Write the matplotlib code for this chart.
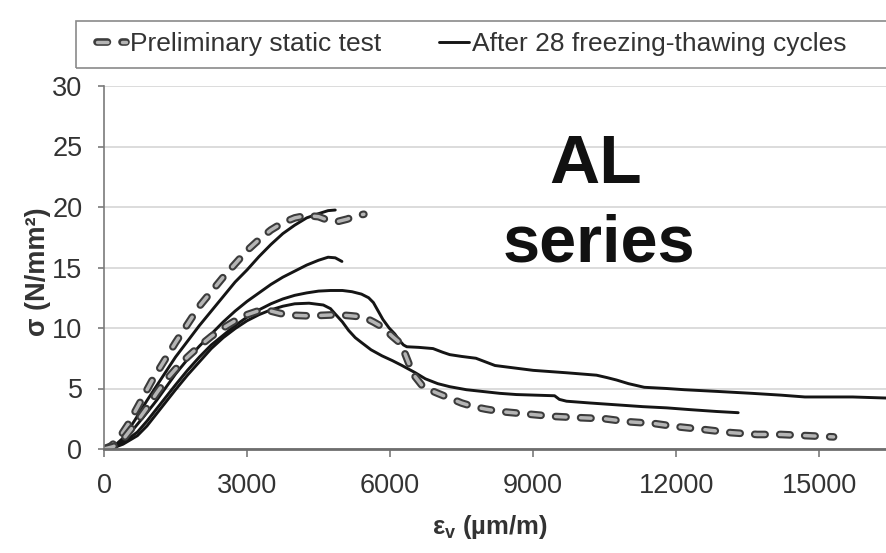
import matplotlib
matplotlib.use('Agg')
import matplotlib.pyplot as plt
from matplotlib.lines import Line2D
from matplotlib.patches import Rectangle

plt.rcParams['font.family'] = ['Liberation Sans', 'DejaVu Sans']
plt.rcParams['lines.scale_dashes'] = False
plt.rcParams['mathtext.fontset'] = 'custom'
plt.rcParams['mathtext.rm'] = 'Liberation Sans:bold'
plt.rcParams['mathtext.it'] = 'Liberation Sans:bold'
plt.rcParams['mathtext.bf'] = 'Liberation Sans:bold'

# ---- data: strain (um/m) vs stress (N/mm2) ----
# preliminary static test (dashed)
pre1_x = [0, 150, 300, 500, 750, 1000, 1250, 1500, 1750, 2000, 2250, 2500, 2750, 3000,
          3250, 3500, 3750, 4000, 4250, 4500, 4700, 4900, 5100, 5300, 5450]
pre1_y = [0, 0.25, 0.8, 2.0, 3.8, 5.6, 7.2, 8.8, 10.3, 11.8, 13.0, 14.2, 15.3, 16.4,
          17.3, 18.1, 18.7, 19.1, 19.3, 19.2, 18.9, 18.8, 19.0, 19.3, 19.4]

pre2_x = [0, 200, 400, 700, 900, 1100, 1300, 1500, 1750, 2000, 2250, 2500, 2750, 3000,
          3300, 3500, 3700, 4000, 4300, 4600, 4900, 5200, 5450, 5650, 5830, 6050, 6200,
          6300, 6400, 6500, 6700, 7000, 7250, 7500, 7750, 8000, 8300, 8850, 9400, 9900,
          10500, 11000, 11550, 12000, 12600, 13150, 13700, 14200, 14750, 15300]
pre2_y = [0, 0.2, 0.8, 2.3, 3.4, 4.6, 5.7, 6.6, 7.6, 8.5, 9.3, 10.0, 10.6, 11.1,
          11.5, 11.4, 11.2, 11.05, 11.0, 11.05, 11.1, 11.0, 10.9, 10.5, 10.1, 9.3, 8.8,
          8.0, 7.0, 6.1, 5.1, 4.6, 4.2, 3.8, 3.5, 3.3, 3.1, 2.9, 2.7, 2.6,
          2.5, 2.25, 2.1, 1.85, 1.6, 1.35, 1.2, 1.2, 1.1, 1.0]

# after 28 freezing-thawing cycles (solid)
ft1_x = [0, 200, 400, 650, 900, 1100, 1300, 1500, 1750, 2000, 2250, 2500, 2750, 3000,
         3250, 3500, 3750, 4000, 4250, 4500, 4700, 4850]
ft1_y = [0, 0.2, 0.9, 2.4, 4.0, 5.2, 6.4, 7.6, 8.9, 10.2, 11.4, 12.6, 13.8, 14.8,
         15.9, 16.9, 17.8, 18.5, 19.1, 19.45, 19.7, 19.75]

ft2_x = [0, 200, 400, 650, 900, 1100, 1300, 1500, 1750, 2000, 2250, 2500, 2750, 3000,
         3250, 3500, 3750, 4000, 4250, 4500, 4700, 4850, 4990]
ft2_y = [0, 0.15, 0.7, 1.8, 3.0, 4.0, 5.1, 6.2, 7.4, 8.5, 9.5, 10.5, 11.4, 12.2,
         12.9, 13.6, 14.2, 14.7, 15.2, 15.6, 15.85, 15.8, 15.5]

ft3_x = [0, 200, 400, 700, 900, 1100, 1300, 1500, 1750, 2000, 2250, 2500, 2750, 3000,
         3250, 3500, 3750, 4000, 4250, 4500, 4750, 5000, 5200, 5400, 5550, 5650, 5750,
         5850, 5980, 6100, 6190, 6280, 6350, 6600, 6900, 7100, 7250, 7500, 7800, 8000,
         8200, 8600, 9000, 9700, 10330, 10550, 10750, 11000, 11330, 11800, 12170, 12900,
         13590, 14200, 14700, 15200, 15700, 16500]
ft3_y = [0, 0.1, 0.5, 1.4, 2.3, 3.3, 4.3, 5.3, 6.5, 7.6, 8.6, 9.4, 10.2, 10.9,
         11.5, 12.0, 12.4, 12.7, 12.9, 13.05, 13.1, 13.1, 13.0, 12.8, 12.5, 12.1, 11.4,
         10.7, 10.0, 9.5, 9.0, 8.6, 8.45, 8.4, 8.3, 8.0, 7.8, 7.65, 7.5, 7.2,
         6.9, 6.7, 6.5, 6.3, 6.1, 5.9, 5.7, 5.4, 5.1, 5.0, 4.9, 4.75,
         4.6, 4.45, 4.3, 4.3, 4.3, 4.2]

ft4_x = [0, 200, 400, 700, 900, 1100, 1300, 1500, 1750, 2000, 2250, 2500, 2750, 3000,
         3250, 3500, 3750, 4000, 4300, 4600, 4750, 4840, 5000, 5130, 5270, 5400, 5600,
         5830, 6050, 6250, 6530, 6740, 7000, 7250, 7600, 7950, 8300, 8650, 9050, 9450,
         9550, 9700, 10200, 10750, 11300, 11800, 12300, 12850, 13300]
ft4_y = [0, 0.1, 0.4, 1.1, 1.9, 2.9, 3.9, 4.9, 6.1, 7.2, 8.3, 9.2, 9.95, 10.6,
         11.1, 11.5, 11.8, 12.0, 12.05, 11.9, 11.6, 11.2, 10.5, 9.8, 9.2, 8.8, 8.2,
         7.7, 7.3, 6.9, 6.3, 5.8, 5.4, 5.15, 4.9, 4.75, 4.6, 4.5, 4.45, 4.4,
         4.1, 3.95, 3.8, 3.65, 3.5, 3.4, 3.25, 3.1, 3.0]

xticks = [0, 3000, 6000, 9000, 12000, 15000]
yticks = [0, 5, 10, 15, 20, 25, 30]

W, H = 886, 553
fig = plt.figure(figsize=(W/100, H/100), dpi=100)
ax = fig.add_axes([104/W, 1-449/H, (W-104)/W, (449-86)/H])

solid = dict(color='#151515', lw=2.1, solid_capstyle='round', solid_joinstyle='round')
for xs, ys in [(ft1_x, ft1_y), (ft2_x, ft2_y), (ft3_x, ft3_y), (ft4_x, ft4_y)]:
    ax.plot(xs, ys, **solid)

outer = dict(color='#3c3c3c', lw=5.5, dashes=(7.5, 10.5), dash_capstyle='round')
inner = dict(color='#b5b5b5', lw=2.5, dashes=(7.5, 10.5), dash_capstyle='round')
for xs, ys in [(pre1_x, pre1_y), (pre2_x, pre2_y)]:
    ax.plot(xs, ys, **outer)
    ax.plot(xs, ys, **inner)

ax.set_xlim(0, 16400)
ax.set_ylim(0, 30)
ax.set_xticks(xticks)
ax.set_yticks(yticks)
ax.yaxis.grid(True, color='#d6d6d6', lw=1.2)
ax.set_axisbelow(True)
for s in ['top', 'right']:
    ax.spines[s].set_visible(False)
ax.spines['left'].set_color('#7a7a7a')
ax.spines['left'].set_linewidth(1.2)
ax.spines['bottom'].set_color('#6e6e6e')
ax.spines['bottom'].set_linewidth(2.0)
ax.tick_params(axis='x', length=6, width=1.2, color='#7a7a7a', pad=11,
               labelsize=19.5, labelcolor='#333333')
ax.tick_params(axis='y', length=4.5, width=1.2, color='#7a7a7a', pad=11,
               labelsize=19.5, labelcolor='#333333')

fig.text(38/W, 1-272/H, 'σ (N/mm²)', rotation=90, ha='center', va='center',
         fontsize=19.5, fontweight='bold', color='#333333')
fig.text(490/W, 1-527/H, 'ε$_{v}$ (µm/m)', ha='center', va='center',
         fontsize=18.5, fontweight='bold', color='#333333')

fig.text(596/W, 1-183/H, 'AL', ha='center', va='baseline',
         fontsize=50, fontweight='bold', color='#111111')
fig.text(599/W, 1-262/H, 'series', ha='center', va='baseline',
         fontsize=48, fontweight='bold', color='#111111')

# legend
fig.patches.append(Rectangle((76/W, 1-68/H), 0.99, 47/H, transform=fig.transFigure,
                             fill=False, edgecolor='#8a8a8a', lw=1.2))
h_pre = (Line2D([], [], **outer), Line2D([], [], **inner))
h_ft = Line2D([], [], **solid)
fig.legend([h_pre, h_ft], ['Preliminary static test', 'After 28 freezing-thawing cycles'],
           loc='center left', bbox_to_anchor=(84/W, 1-44/H), ncol=2, frameon=False,
           fontsize=19, handlelength=1.1, handletextpad=0.15, columnspacing=2.2,
           borderpad=0, labelcolor='#333333')

fig.savefig('out.png', dpi=100)
